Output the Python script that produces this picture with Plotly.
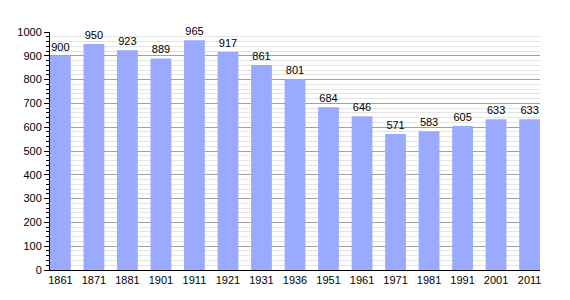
import plotly.graph_objects as go

years = ["1861", "1871", "1881", "1901", "1911", "1921", "1931", "1936", "1951",
         "1961", "1971", "1981", "1991", "2001", "2011"]
population = [900, 950, 923, 889, 965, 917, 861, 801, 684, 646, 571, 583, 605, 633, 633]

fig = go.Figure(go.Bar(
    x=years, y=population,
    marker=dict(color="#99aaff", line=dict(width=0)),
    width=0.62,
    text=[str(v) for v in population],
    textposition="outside",
    textfont=dict(family="Liberation Sans, Arial", size=11, color="#000"),
    cliponaxis=False,
))

fig.update_layout(
    width=570, height=300,
    margin=dict(l=50, r=30, t=32, b=30),
    paper_bgcolor="white", plot_bgcolor="white",
    showlegend=False,
    font=dict(family="Liberation Sans, Arial", size=11, color="#000"),
    uniformtext=dict(minsize=11, mode="show"),
)
fig.update_xaxes(
    type="category", range=[-0.31, 14.31],
    showline=True, linecolor="#000", linewidth=1,
    ticks="", showgrid=False, tickfont=dict(size=11),
)
fig.update_yaxes(
    range=[0, 1000], dtick=100,
    showline=True, linecolor="#000", linewidth=1,
    ticks="outside", ticklen=5, tickcolor="#000",
    showgrid=True, gridcolor="#a0a0a0", gridwidth=1,
    zeroline=False,
    minor=dict(dtick=20, ticks="outside", ticklen=3, tickcolor="#000",
               showgrid=True, gridcolor="#e4e4e4", gridwidth=1),
    tickfont=dict(size=11),
)

fig.write_html("out.html")
